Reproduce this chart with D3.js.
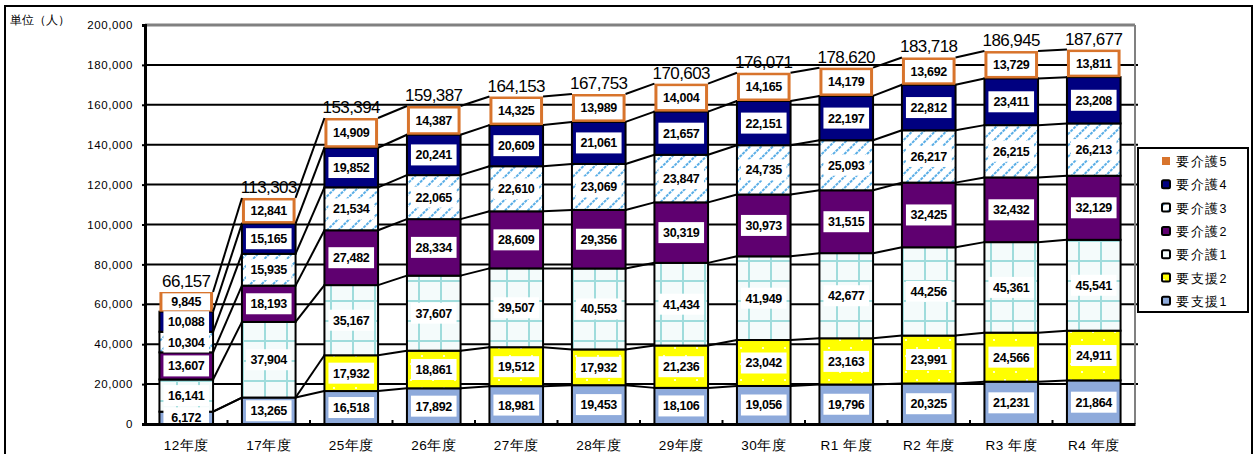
<!DOCTYPE html>
<html>
<head>
<meta charset="utf-8">
<script src="https://cdn.jsdelivr.net/npm/d3@7"></script>
<style>
body { margin: 0; background: #fff; }
text { font-family: "Liberation Sans", Arial, sans-serif; }
</style>
</head>
<body>
<div id="chart"></div>
<script>
var years = ["12年度", "17年度", "25年度", "26年度", "27年度", "28年度", "29年度", "30年度", "R1 年度", "R2 年度", "R3 年度", "R4 年度"];
var seriesNames = ["要支援1", "要支援2", "要介護1", "要介護2", "要介護3", "要介護4", "要介護5"];
var legendNames = ["要介護5", "要介護4", "要介護3", "要介護2", "要介護1", "要支援2", "要支援1"];
var shien1 = [6172, 13265, 16518, 17892, 18981, 19453, 18106, 19056, 19796, 20325, 21231, 21864];
var shien2 = [0, 0, 17932, 18861, 19512, 17932, 21236, 23042, 23163, 23991, 24566, 24911];
var kaigo1 = [16141, 37904, 35167, 37607, 39507, 40553, 41434, 41949, 42677, 44256, 45361, 45541];
var kaigo2 = [13607, 18193, 27482, 28334, 28609, 29356, 30319, 30973, 31515, 32425, 32432, 32129];
var kaigo3 = [10304, 15935, 21534, 22065, 22610, 23069, 23847, 24735, 25093, 26217, 26215, 26213];
var kaigo4 = [10088, 15165, 19852, 20241, 20609, 21061, 21657, 22151, 22197, 22812, 23411, 23208];
var kaigo5 = [9845, 12841, 14909, 14387, 14325, 13989, 14004, 14165, 14179, 13692, 13729, 13811];
var totals = [66157, 113303, 153394, 159387, 164153, 167753, 170603, 176071, 178620, 183718, 186945, 187677];
var yTicks = [0, 20000, 40000, 60000, 80000, 100000, 120000, 140000, 160000, 180000, 200000];

var width = 1257, height = 454;
var svg = d3.select("#chart").append("svg")
    .attr("width", width)
    .attr("height", height);

var defs = svg.append("defs");

// yellow with small white dots
var pDots = defs.append("pattern").attr("id", "dots")
    .attr("patternUnits", "userSpaceOnUse").attr("width", 22).attr("height", 16);
pDots.append("rect").attr("width", 22).attr("height", 16).attr("fill", "#ffff00");
pDots.append("circle").attr("cx", 4).attr("cy", 4).attr("r", 1.1).attr("fill", "#fff");
pDots.append("circle").attr("cx", 15).attr("cy", 12).attr("r", 1.1).attr("fill", "#fff");

// light teal grid
var pGrid = defs.append("pattern").attr("id", "grid")
    .attr("patternUnits", "userSpaceOnUse").attr("width", 22).attr("height", 20);
pGrid.append("rect").attr("width", 22).attr("height", 20).attr("fill", "#f4fbfb");
pGrid.append("path").attr("d", "M0,1H22M1,0V20").attr("stroke", "#9fdcdc").attr("stroke-width", 2);

// diagonal dashed hatch
var pHatch = defs.append("pattern").attr("id", "hatch")
    .attr("patternUnits", "userSpaceOnUse").attr("width", 8).attr("height", 8)
    .attr("patternTransform", "rotate(-45)");
pHatch.append("rect").attr("width", 8).attr("height", 8).attr("fill", "#fff");
pHatch.append("line").attr("x1", 0).attr("y1", 2).attr("x2", 8).attr("y2", 2)
    .attr("stroke", "#5aaee6").attr("stroke-width", 2.2).attr("stroke-dasharray", "3,1");

var fills = ["#8eaadb", "url(#dots)", "url(#grid)", "#5f0070", "url(#hatch)", "#000080", "#d8742c"];

// outer frame
svg.append("rect")
    .attr("x", 5).attr("y", 6).attr("width", 1247).attr("height", 460)
    .attr("fill", "none").attr("stroke", "#000").attr("stroke-width", 2);

svg.append("text")
    .attr("x", 10).attr("y", 24)
    .attr("font-size", 12)
    .text("単位（人）");

var plotL = 145, plotR = 1135, plotT = 25, plotB = 424;

var x = d3.scaleBand()
    .domain(years)
    .range([plotL, plotR])
    .paddingInner(0.35)
    .paddingOuter(0.175);

var y = d3.scaleLinear()
    .domain([0, 200000])
    .range([plotB, plotT]);

// gridlines
svg.append("g").selectAll("line")
    .data(yTicks.filter(function (d) { return d > 0 && d < 200000; }))
    .enter().append("line")
    .attr("x1", plotL).attr("x2", plotR + 3)
    .attr("y1", function (d) { return y(d); })
    .attr("y2", function (d) { return y(d); })
    .attr("stroke", "#000").attr("stroke-width", 2);

// plot border top / right
svg.append("line").attr("x1", plotL).attr("x2", plotR).attr("y1", plotT).attr("y2", plotT)
    .attr("stroke", "#808080").attr("stroke-width", 3);
svg.append("line").attr("x1", plotR).attr("x2", plotR).attr("y1", plotT).attr("y2", plotB)
    .attr("stroke", "#808080").attr("stroke-width", 2);

var table = years.map(function (yr, i) {
    var o = { year: yr };
    o[seriesNames[0]] = shien1[i];
    o[seriesNames[1]] = shien2[i];
    o[seriesNames[2]] = kaigo1[i];
    o[seriesNames[3]] = kaigo2[i];
    o[seriesNames[4]] = kaigo3[i];
    o[seriesNames[5]] = kaigo4[i];
    o[seriesNames[6]] = kaigo5[i];
    return o;
});

var stacked = d3.stack().keys(seriesNames)(table);
var bw = x.bandwidth();

// bars
var layer = svg.append("g").selectAll("g")
    .data(stacked)
    .enter().append("g");

layer.selectAll("rect")
    .data(function (s, k) { return s.map(function (d) { return { d: d, k: k }; }); })
    .enter().append("rect")
    .filter(function (e) { return e.d[1] > e.d[0]; })
    .attr("x", function (e) { return x(e.d.data.year); })
    .attr("y", function (e) { return y(e.d[1]); })
    .attr("width", bw)
    .attr("height", function (e) { return y(e.d[0]) - y(e.d[1]); })
    .attr("fill", function (e) { return fills[e.k]; })
    .attr("stroke", function (e) { return e.k === 6 ? "none" : "#000"; })
    .attr("stroke-width", 2);

// series lines
var sl = svg.append("g");
stacked.forEach(function (s) {
    for (var i = 0; i < s.length - 1; i++) {
        sl.append("line")
            .attr("x1", x(years[i]) + bw)
            .attr("y1", y(s[i][1]))
            .attr("x2", x(years[i + 1]))
            .attr("y2", y(s[i + 1][1]))
            .attr("stroke", "#000").attr("stroke-width", 2);
    }
});

// data labels
var fmt = d3.format(",");
var lab = svg.append("g");
stacked.forEach(function (s, k) {
    s.forEach(function (d) {
        var v = d[1] - d[0];
        if (v <= 0) return;
        var cx = x(d.data.year) + bw / 2;
        var cy = (y(d[0]) + y(d[1])) / 2;
        var bwid = k === 6 ? bw - 6 : bw - 8;
        var bh = k === 6 ? Math.max(y(d[0]) - y(d[1]) - 5, 17) : 21;
        lab.append("rect")
            .attr("x", cx - bwid / 2).attr("y", cy - bh / 2)
            .attr("width", bwid).attr("height", bh)
            .attr("fill", "#fff");
        lab.append("text")
            .attr("x", cx).attr("y", cy + 4.5)
            .attr("text-anchor", "middle")
            .attr("font-size", 12.5)
            .attr("font-weight", "bold")
            .attr("letter-spacing", -0.3)
            .text(fmt(v));
    });
});

// totals
var topLayer = stacked[stacked.length - 1];
svg.append("g").selectAll("text")
    .data(topLayer)
    .enter().append("text")
    .attr("x", function (d) { return x(d.data.year) + bw / 2; })
    .attr("y", function (d) { return y(d[1]) - 5; })
    .attr("text-anchor", "middle")
    .attr("font-size", 17)
    .attr("letter-spacing", -0.6)
    .text(function (d, i) { return fmt(totals[i]); });

// axes
var yAxis = svg.append("g")
    .attr("transform", "translate(" + plotL + ",0)")
    .call(d3.axisLeft(y).tickValues(yTicks).tickFormat(fmt).tickSize(3).tickPadding(9));
yAxis.select(".domain").attr("stroke-width", 3);
yAxis.selectAll("line").attr("stroke-width", 2);
yAxis.selectAll("text").attr("font-size", 11.5).attr("letter-spacing", 0.6)
    .attr("font-family", "'Liberation Sans', Arial, sans-serif");

var xAxis = svg.append("g")
    .attr("transform", "translate(0," + plotB + ")")
    .call(d3.axisBottom(x).tickSize(0).tickPadding(16));
xAxis.select(".domain").attr("stroke-width", 3);
xAxis.selectAll("text").attr("font-size", 13.5).attr("letter-spacing", 0.5)
    .attr("font-family", "'Liberation Sans', Arial, sans-serif");

// small ticks between categories
svg.append("g").selectAll("line")
    .data(years.slice(1))
    .enter().append("line")
    .attr("x1", function (d) { return x(d) - x.step() * 0.175; })
    .attr("x2", function (d) { return x(d) - x.step() * 0.175; })
    .attr("y1", plotB).attr("y2", plotB - 4)
    .attr("stroke", "#000").attr("stroke-width", 2);

// legend
var lg = svg.append("g").attr("transform", "translate(1138,148)");
lg.append("rect").attr("width", 110).attr("height", 164)
    .attr("fill", "#fff").attr("stroke", "#000").attr("stroke-width", 2);
legendNames.forEach(function (name, j) {
    var k = seriesNames.indexOf(name);
    var ly = 13 + j * 23.3;
    lg.append("rect")
        .attr("x", 24).attr("y", ly - 4).attr("width", 8).attr("height", 8)
        .attr("rx", k === 6 ? 0 : 1.5)
        .attr("fill", fills[k])
        .attr("stroke", k === 6 ? "none" : "#000").attr("stroke-width", 2);
    lg.append("text")
        .attr("x", 38).attr("y", ly + 5)
        .attr("font-size", 12.5)
        .attr("letter-spacing", 1.5)
        .text(name);
});
</script>
</body>
</html>
